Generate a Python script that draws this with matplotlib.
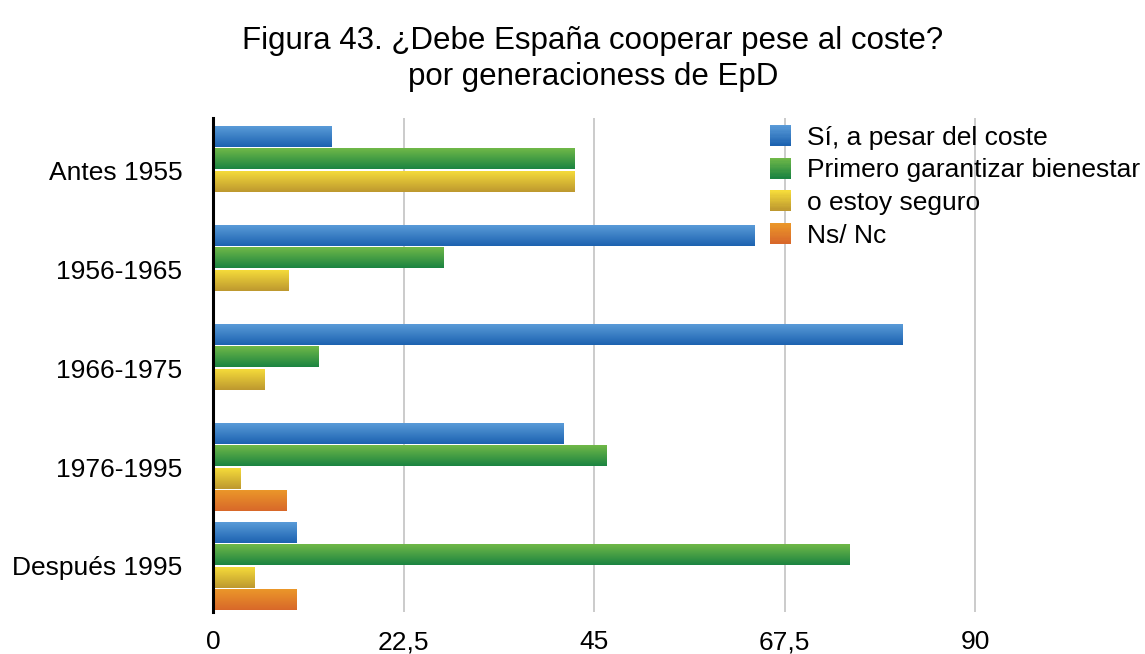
import numpy as np
import matplotlib
matplotlib.use("Agg")
import matplotlib.pyplot as plt
from matplotlib.patches import Rectangle
from matplotlib.legend_handler import HandlerBase
from matplotlib.colors import to_rgb

plt.rcParams['font.family'] = ['Liberation Sans', 'DejaVu Sans']

groups = ['Antes 1955', '1956-1965', '1966-1975', '1976-1995', 'Después 1995']
series = ['Sí, a pesar del coste', 'Primero garantizar bienestar',
          'o estoy seguro', 'Ns/ Nc']
si_coste = [14.0, 63.9, 81.4, 41.4, 9.9]
bienestar = [42.7, 27.2, 12.5, 46.5, 75.2]
no_seguro = [42.7, 8.9, 6.1, 3.3, 4.9]
ns_nc = [0, 0, 0, 8.7, 9.9]
ticks = [0, 22.5, 45, 67.5, 90]
tick_labels = ['0', '22,5', '45', '67,5', '90']

# (top, bottom) colours of the vertical gradient for each series
gradients = [('#5A9BD8', '#1C62B0'),
             ('#70B848', '#1B8441'),
             ('#F5DB3A', '#BD982F'),
             ('#EB9729', '#D8682A')]


def ramp(top, bottom, n=64):
    t = np.linspace(0, 1, n)[:, None]
    return (1 - t) * np.array(to_rgb(top)) + t * np.array(to_rgb(bottom))


class GradientHandler(HandlerBase):
    def __init__(self, top, bottom):
        super().__init__()
        self.top, self.bottom = top, bottom

    def create_artists(self, legend, orig_handle, xdescent, ydescent,
                       width, height, fontsize, trans):
        n = 16
        cols = ramp(self.top, self.bottom, n)
        size = height
        artists = []
        for i in range(n):
            y = -ydescent + size * (1 - (i + 1) / n)
            artists.append(Rectangle((-xdescent, y), size, size / n + 0.3,
                                     facecolor=cols[i], edgecolor='none',
                                     transform=trans))
        return artists


fig = plt.figure(figsize=(11.45, 6.54), dpi=100)
ax = fig.add_axes([213 / 1145, 1 - 612 / 654, 932 / 1145, 494 / 654])

slot = 0.227
bar_h = 0.21
y = np.arange(len(groups))
values = [si_coste, bienestar, no_seguro, ns_nc]
for k, vals in enumerate(values):
    pos = y + (k - 1.5) * slot
    bars = ax.barh(pos, vals, height=bar_h, color='none', zorder=2)
    grad = ramp(*gradients[k])[:, None, :]
    for b in bars:
        w = b.get_width()
        if w <= 0:
            continue
        y0 = b.get_y()
        ax.imshow(grad, extent=(0, w, y0 + bar_h, y0), aspect='auto',
                  origin='upper', zorder=2, interpolation='bilinear')

ax.set_xlim(0, 932 / 8.467)
ax.set_ylim(4 + 46 / 99, -52 / 99)
ax.set_aspect('auto')

ax.set_yticks(y)
ax.set_yticklabels(groups, fontsize=19)
ax.tick_params(axis='y', length=0, pad=22)
ax.set_xticks(ticks)
ax.set_xticklabels(tick_labels, fontsize=19)
ax.tick_params(axis='x', length=0, pad=13)

ax.grid(axis='x', color='#BDBDBD', linewidth=1.1, zorder=0)
ax.set_axisbelow(True)
for side in ['top', 'right', 'bottom']:
    ax.spines[side].set_visible(False)
ax.spines['left'].set_linewidth(2.2)
ax.spines['left'].set_color('black')
ax.spines['left'].set_zorder(3)

handles = [Rectangle((0, 0), 1, 1) for _ in series]
leg = ax.legend(handles, series, fontsize=19, frameon=False,
                loc='upper left',
                bbox_to_anchor=(765 / 1145, 1 - 120 / 654),
                bbox_transform=fig.transFigure,
                handler_map={h: GradientHandler(*g)
                             for h, g in zip(handles, gradients)},
                handlelength=0.83, handleheight=0.83, handletextpad=0.55,
                labelspacing=0.31, borderpad=0.2, borderaxespad=0)

fig.text(593 / 1145, 1 - 59 / 654,
         'Figura 43. ¿Debe España cooperar pese al coste?\npor generacioness de EpD',
         ha='center', va='center', fontsize=22.5, linespacing=1.22)

fig.savefig('out.png', dpi=100)
